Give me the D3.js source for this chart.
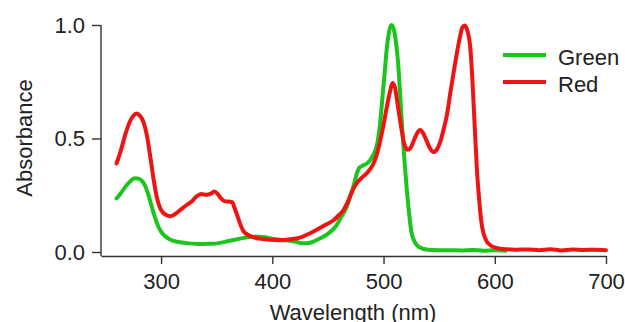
<!DOCTYPE html>
<html>
<head>
<meta charset="utf-8">
<script src="https://cdn.jsdelivr.net/npm/d3@7"></script>
<style>
  body { margin: 0; background: #fff; }
  svg text { font-family: "Liberation Sans", Arial, sans-serif; fill: #222; }
</style>
</head>
<body>
<div id="chart"></div>
<script>
// absorbance spectra
var greenWl = [260, 264, 268, 272, 276, 279, 282, 285, 288, 291, 294, 297, 300, 304, 308, 312, 317, 325, 335, 343,
  350, 358, 365, 372, 378, 385, 392, 400, 408, 416, 422, 428, 433, 437, 442, 449, 454, 458, 462, 467,
  470, 473, 476, 478, 481, 485, 488, 491, 494, 497, 499, 501, 503, 505, 507, 509, 511, 513, 515, 517,
  519, 521, 523, 525, 527, 530, 535, 540, 550, 560, 570, 580, 590, 600, 610];
var greenAbs = [0.236, 0.26, 0.288, 0.31, 0.325, 0.324, 0.317, 0.298, 0.262, 0.21, 0.16, 0.118, 0.09, 0.068, 0.055, 0.048, 0.043, 0.038, 0.035, 0.036,
  0.038, 0.045, 0.053, 0.06, 0.065, 0.067, 0.066, 0.058, 0.053, 0.05, 0.044, 0.038, 0.04, 0.046, 0.058, 0.077, 0.097, 0.12, 0.155, 0.2,
  0.245, 0.29, 0.345, 0.37, 0.38, 0.39, 0.405, 0.43, 0.47, 0.57, 0.68, 0.79, 0.9, 0.97, 1.0, 0.985, 0.93, 0.84, 0.69, 0.53,
  0.39, 0.27, 0.17, 0.09, 0.055, 0.03, 0.015, 0.01, 0.008, 0.008, 0.007, 0.009, 0.006, 0.008, 0.006];

var redWl = [260, 264, 268, 272, 276, 278, 281, 284, 287, 290, 293, 296, 299, 302, 305, 308, 311, 314, 318, 323,
  328, 332, 336, 341, 345, 348, 351, 354, 357, 361, 364, 366, 368, 371, 374, 378, 384, 390, 398, 407,
  416, 424, 432, 440, 448, 455, 460, 464, 468, 471, 474, 477, 481, 485, 488, 491, 494, 497, 500, 503,
  506, 508, 510, 513, 516, 519, 522, 525, 528, 531, 533, 536, 539, 542, 545, 548, 551, 554, 557, 560,
  564, 568, 571, 573, 575, 578, 580, 582, 584, 586, 588, 590, 593, 596, 600, 605, 612, 620, 630, 640,
  650, 660, 670, 680, 690, 700];
var redAbs = [0.39, 0.45, 0.52, 0.575, 0.605, 0.61, 0.6, 0.575, 0.52, 0.43, 0.33, 0.245, 0.195, 0.172, 0.162, 0.158, 0.162, 0.172, 0.188, 0.207,
  0.225, 0.245, 0.255, 0.252, 0.258, 0.266, 0.255, 0.236, 0.224, 0.222, 0.22, 0.195, 0.168, 0.125, 0.092, 0.076, 0.064, 0.058, 0.054, 0.052,
  0.056, 0.062, 0.078, 0.098, 0.12, 0.14, 0.163, 0.185, 0.222, 0.258, 0.288, 0.31, 0.33, 0.347, 0.365, 0.39, 0.43, 0.49, 0.56, 0.64,
  0.71, 0.745, 0.73, 0.64, 0.545, 0.47, 0.45, 0.465, 0.5, 0.53, 0.537, 0.52, 0.486, 0.455, 0.44, 0.452, 0.486, 0.54, 0.604, 0.7,
  0.82, 0.93, 0.99, 0.998, 0.98, 0.9, 0.75, 0.55, 0.36, 0.23, 0.13, 0.08, 0.045, 0.03, 0.02, 0.014, 0.012, 0.01, 0.011, 0.008,
  0.012, 0.007, 0.011, 0.009, 0.01, 0.008];

var xTicks = [300, 400, 500, 600, 700];
var yTicks = [0, 0.5, 1.0];
var seriesNames = ["Green", "Red"];
var seriesColors = ["#1ec41e", "#ef1414"];

var width = 625, height = 322;

var svg = d3.select("#chart").append("svg")
  .attr("width", width)
  .attr("height", height);

var x = d3.scaleLinear().domain([246, 700]).range([101, 606]);
var y = d3.scaleLinear().domain([0, 1]).range([252, 25]);
var xAxisY = 256;

// x axis
var xAxis = svg.append("g")
  .attr("transform", "translate(0," + xAxisY + ")")
  .call(d3.axisBottom(x).tickValues(xTicks).tickSize(8).tickSizeOuter(0).tickPadding(9));

// y axis, its line runs down to the x axis
var yAxis = svg.append("g")
  .attr("transform", "translate(" + x.range()[0] + ",0)")
  .call(d3.axisLeft(y).tickValues(yTicks).tickSize(9).tickPadding(7).tickFormat(d3.format(".1f")));
yAxis.select(".domain").remove();
yAxis.append("line")
  .attr("x1", 0).attr("x2", 0)
  .attr("y1", y(1)).attr("y2", xAxisY);

svg.selectAll(".tick text").style("font-size", "22px").attr("fill", "#222");
svg.selectAll(".domain, .tick line, g > line").attr("stroke", "#333").attr("stroke-width", 1.4);

var line = d3.line()
  .x(function(d) { return x(d[0]); })
  .y(function(d) { return y(d[1]); })
  .curve(d3.curveMonotoneX);

var series = [d3.zip(greenWl, greenAbs), d3.zip(redWl, redAbs)];

svg.selectAll(".spectrum")
  .data(series).enter().append("path")
  .attr("class", "spectrum")
  .attr("d", line)
  .attr("fill", "none")
  .attr("stroke", function(d, i) { return seriesColors[i]; })
  .attr("stroke-width", 4)
  .attr("stroke-linejoin", "round")
  .attr("stroke-linecap", "round");

// legend
var legend = svg.selectAll(".legend")
  .data(seriesNames).enter().append("g")
  .attr("class", "legend")
  .attr("transform", function(d, i) { return "translate(503," + (55 + i * 27) + ")"; });

legend.append("line")
  .attr("x1", 0).attr("x2", 43)
  .attr("stroke", function(d, i) { return seriesColors[i]; })
  .attr("stroke-width", 4);

legend.append("text")
  .attr("x", 55)
  .attr("y", 10)
  .style("font-size", "22px")
  .text(function(d) { return d; });

// axis titles
svg.append("text")
  .attr("x", 353)
  .attr("y", 320)
  .attr("text-anchor", "middle")
  .style("font-size", "22px")
  .text("Wavelength (nm)");

svg.append("text")
  .attr("transform", "translate(32,138) rotate(-90)")
  .attr("text-anchor", "middle")
  .style("font-size", "22px")
  .text("Absorbance");
</script>
</body>
</html>
